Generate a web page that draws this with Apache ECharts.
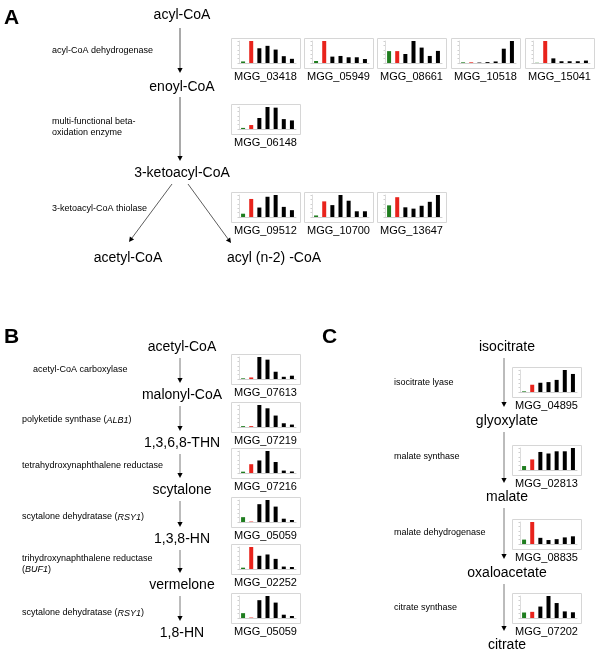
<!DOCTYPE html>
<html><head><meta charset="utf-8">
<script src="https://cdn.jsdelivr.net/npm/echarts@6/dist/echarts.min.js"></script>
<style>html,body{margin:0;padding:0;background:#fff}#c{width:606px;height:652px}</style>
</head><body><div id="c"></div>
<script>
// ---- data (relative expression, 7 conditions; 1st green, 2nd red, rest black) ----
const conditions = ['1','2','3','4','5','6','7'];
const mgg03418 = [7, 100, 67, 78, 61, 31, 19];
const mgg05949 = [9, 100, 29, 32, 26, 26, 18];
const mgg08661 = [54, 54, 41, 100, 70, 32, 55];
const mgg10518 = [3, 3, 2, 4, 7, 65, 100];
const mgg15041 = [1, 100, 21, 8, 8, 8, 11];
const mgg06148 = [5, 18, 50, 100, 97, 45, 39];
const mgg09512 = [15, 82, 43, 92, 100, 46, 31];
const mgg10700 = [7, 71, 54, 100, 74, 26, 26];
const mgg13647 = [53, 90, 44, 38, 51, 69, 100];
const mgg07613 = [3, 7, 100, 88, 33, 10, 15];
const mgg07219 = [4, 4, 100, 85, 52, 17, 11];
const mgg07216 = [6, 40, 57, 100, 50, 11, 7];
const mgg05059 = [22, 2, 81, 100, 70, 15, 9];
const mgg02252 = [6, 100, 60, 66, 46, 11, 9];
const mgg04895 = [3, 33, 42, 45, 55, 100, 82];
const mgg02813 = [18, 48, 82, 75, 85, 85, 100];
const mgg08835 = [20, 100, 28, 18, 22, 30, 35];
const mgg07202 = [25, 28, 52, 100, 68, 30, 26];

const metabolitesA = ['acyl-CoA', 'enoyl-CoA', '3-ketoacyl-CoA', 'acetyl-CoA', 'acyl (n-2) -CoA'];
const enzymesA = ['acyl-CoA dehydrogenase', 'multi-functional beta-\noxidation enzyme', '3-ketoacyl-CoA thiolase'];
const metabolitesB = ['acetyl-CoA', 'malonyl-CoA', '1,3,6,8-THN', 'scytalone', '1,3,8-HN', 'vermelone', '1,8-HN'];
const enzymesB = ['acetyl-CoA carboxylase', 'polyketide synthase ({i|ALB1})', 'tetrahydroxynaphthalene reductase',
  'scytalone dehydratase ({i|RSY1})', 'trihydroxynaphthalene reductase\n({i|BUF1})', 'scytalone dehydratase ({i|RSY1})'];
const metabolitesC = ['isocitrate', 'glyoxylate', 'malate', 'oxaloacetate', 'citrate'];
const enzymesC = ['isocitrate lyase', 'malate synthase', 'malate dehydrogenase', 'citrate synthase'];

// ---- layout ----
const FONT = 'Liberation Sans, Arial, Helvetica, sans-serif';
const W = 69, H = 30;
const charts = [
  {name:'MGG_03418', data:mgg03418, x:231, y:38},
  {name:'MGG_05949', data:mgg05949, x:304, y:38},
  {name:'MGG_08661', data:mgg08661, x:377, y:38},
  {name:'MGG_10518', data:mgg10518, x:451, y:38},
  {name:'MGG_15041', data:mgg15041, x:525, y:38},
  {name:'MGG_06148', data:mgg06148, x:231, y:104},
  {name:'MGG_09512', data:mgg09512, x:231, y:192},
  {name:'MGG_10700', data:mgg10700, x:304, y:192},
  {name:'MGG_13647', data:mgg13647, x:377, y:192},
  {name:'MGG_07613', data:mgg07613, x:231, y:354},
  {name:'MGG_07219', data:mgg07219, x:231, y:402},
  {name:'MGG_07216', data:mgg07216, x:231, y:448},
  {name:'MGG_05059', data:mgg05059, x:231, y:497},
  {name:'MGG_02252', data:mgg02252, x:231, y:544},
  {name:'MGG_05059', data:mgg05059, x:231, y:593},
  {name:'MGG_04895', data:mgg04895, x:512, y:367},
  {name:'MGG_02813', data:mgg02813, x:512, y:445},
  {name:'MGG_08835', data:mgg08835, x:512, y:519},
  {name:'MGG_07202', data:mgg07202, x:512, y:593}
];

const grid = [], xAxis = [], yAxis = [], series = [], graphic = [];
charts.forEach((c, i) => {
  grid.push({left:c.x+8, top:c.y+3, width:W-12, height:H-8});
  xAxis.push({gridIndex:i, type:'category', data:conditions,
    axisLine:{lineStyle:{color:'#cfcfcf', width:1}}, axisTick:{show:false}, axisLabel:{show:false}});
  yAxis.push({gridIndex:i, type:'value', min:0, max:'dataMax', splitNumber:6,
    axisLine:{show:true, lineStyle:{color:'#dcdcdc', width:1}},
    axisTick:{show:true, length:1.5, lineStyle:{color:'#cfcfcf'}},
    axisLabel:{show:false}, splitLine:{show:false}});
  series.push({type:'bar', xAxisIndex:i, yAxisIndex:i, data:c.data, barWidth:4, silent:true,
    itemStyle:{color:(p)=> p.dataIndex===0 ? '#1f7d1f' : (p.dataIndex===1 ? '#e8231c' : '#000')}});
  graphic.push({type:'rect', shape:{x:c.x+0.5, y:c.y+0.5, width:W, height:H},
    style:{fill:null, stroke:'#d6d6d6', lineWidth:1}, z:-1});
  graphic.push({type:'text', style:{text:c.name, x:c.x+W/2, y:c.y+H+9, fill:'#000',
    fontSize:11, fontFamily:FONT, align:'center', verticalAlign:'middle'}});
});

function txt(t, x, y, size, opts) {
  opts = opts || {};
  return {type:'text', style:Object.assign({text:t, x:x, y:y, fill:'#000', fontSize:size, fontFamily:FONT,
    align:opts.align||'center', verticalAlign:'middle', lineHeight:opts.lh||size+1,
    rich:{i:{fontStyle:'italic', fontSize:size, fontFamily:FONT}}}, opts.style||{})};
}
function arrow(x1, y1, x2, y2, color, w) {
  const ang = Math.atan2(y2-y1, x2-x1), L = 5, hw = 2.6;
  const bx = x2 - L*Math.cos(ang), by = y2 - L*Math.sin(ang);
  const px = -Math.sin(ang)*hw, py = Math.cos(ang)*hw;
  return [
    {type:'line', shape:{x1:x1, y1:y1, x2:bx, y2:by}, style:{stroke:color, lineWidth:w}},
    {type:'polygon', shape:{points:[[x2,y2],[bx+px,by+py],[bx-px,by-py]]}, style:{fill:'#000'}}
  ];
}

// Panel A
graphic.push(txt('A', 4, 18, 21, {align:'left', style:{fontWeight:'bold'}}));
graphic.push(txt(metabolitesA[0], 182, 15, 14));
graphic.push(txt(metabolitesA[1], 182, 87, 14));
graphic.push(txt(metabolitesA[2], 182, 173, 14));
graphic.push(txt(metabolitesA[3], 128, 258, 14));
graphic.push(txt(metabolitesA[4], 274, 258, 14));
graphic.push(txt(enzymesA[0], 52, 51, 9, {align:'left'}));
graphic.push(txt(enzymesA[1], 52, 127, 9, {align:'left', lh:11}));
graphic.push(txt(enzymesA[2], 52, 209, 9, {align:'left'}));
graphic.push(...arrow(180, 28, 180, 73, '#8c8c8c', 1.5));
graphic.push(...arrow(180, 97, 180, 161, '#8c8c8c', 1.5));
graphic.push(...arrow(172, 184, 129, 242, '#333', 0.8));
graphic.push(...arrow(188, 184, 231, 243, '#333', 0.8));

// Panel B
graphic.push(txt('B', 4, 337, 21, {align:'left', style:{fontWeight:'bold'}}));
const yB = [347, 395, 443, 490, 539, 585, 633];
metabolitesB.forEach((m, i) => graphic.push(txt(m, 182, yB[i], 14)));
const yEB = [370, 420, 466, 517, 564, 613];
const xEB = [33, 22, 22, 22, 22, 22];
enzymesB.forEach((e, i) => graphic.push(txt(e, xEB[i], yEB[i], 9, {align:'left', lh:11})));
for (let i = 0; i < yB.length-1; i++) graphic.push(...arrow(180, yB[i]+11, 180, yB[i+1]-12, '#555', 0.8));

// Panel C
graphic.push(txt('C', 322, 337, 21, {align:'left', style:{fontWeight:'bold'}}));
const yC = [347, 421, 497, 573, 645];
metabolitesC.forEach((m, i) => graphic.push(txt(m, 507, yC[i], 14)));
const yEC = [383, 457, 533, 608];
enzymesC.forEach((e, i) => graphic.push(txt(e, 394, yEC[i], 9, {align:'left'})));
for (let i = 0; i < yC.length-1; i++) graphic.push(...arrow(504, yC[i]+11, 504, yC[i+1]-14, '#555', 0.8));

const chart = echarts.init(document.getElementById('c'), null, {renderer:'canvas'});
chart.setOption({animation:false, backgroundColor:'#fff', grid, xAxis, yAxis, series, graphic});
</script></body></html>
